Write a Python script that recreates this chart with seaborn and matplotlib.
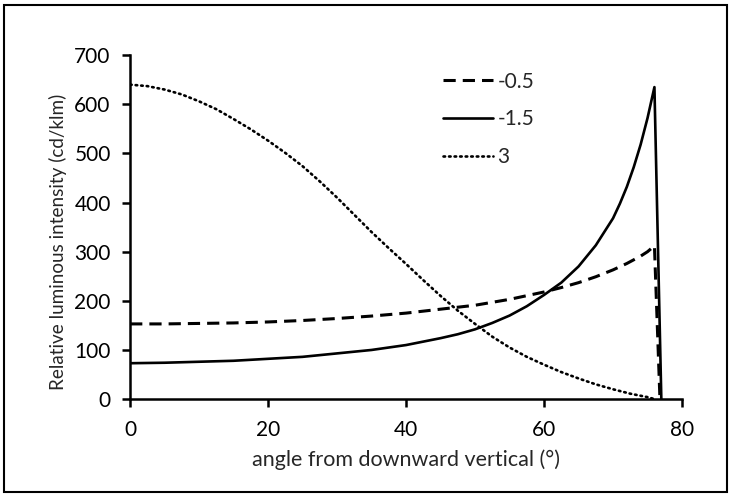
import matplotlib
matplotlib.use("Agg")
import matplotlib.pyplot as plt
import matplotlib.patches as mpatches
import numpy as np
import pandas as pd
import seaborn as sns

# ---- data ----
angle_m05 = [0, 5, 10, 15, 20, 25, 30, 35, 40, 45, 50, 55, 60, 62.5, 65, 67.5, 70, 72, 74, 75, 76, 76.8]
vals_m05 = [153, 153, 154, 155, 157, 160, 164, 169, 175, 183, 191, 203, 218, 227, 237, 249, 263, 276, 291, 300, 312, 0]

angle_m15 = [0, 5, 10, 15, 20, 25, 30, 35, 40, 45, 47.5, 50, 52.5, 55, 57.5, 60, 62.5, 65, 67.5,
             70, 71, 72, 73, 74, 75, 76, 77]
vals_m15 = [73, 74, 76, 78, 82, 86, 93, 100, 110, 124, 132, 142, 155, 170, 189, 212, 237, 270, 313,
            368, 398, 432, 472, 518, 572, 635, 0]

angle_3 = [0, 2.5, 5, 7.5, 10, 12.5, 15, 17.5, 20, 22.5, 25, 27.5, 30, 32.5, 35, 37.5, 40, 42.5,
           45, 47.5, 50, 52.5, 55, 57.5, 60, 62.5, 65, 67.5, 70, 72.5, 75, 76]
vals_3 = [640, 637, 630, 620, 606, 590, 570, 549, 526, 501, 474, 443, 410, 375, 340, 307, 275, 242,
          210, 180, 153, 127, 105, 86, 70, 55, 42, 30, 20, 11, 4, 0]

series_names = ["-0.5", "-1.5", "3"]
x_ticks = [0, 20, 40, 60, 80]
y_ticks = [0, 100, 200, 300, 400, 500, 600, 700]

df = pd.concat([
    pd.DataFrame({"angle": angle_m05, "intensity": vals_m05, "series": "-0.5"}),
    pd.DataFrame({"angle": angle_m15, "intensity": vals_m15, "series": "-1.5"}),
    pd.DataFrame({"angle": angle_3, "intensity": vals_3, "series": "3"}),
], ignore_index=True)

sns.set_style("white")
plt.rcParams["font.family"] = ["Lato", "DejaVu Sans"]
FS = 15

fig = plt.figure(figsize=(7.31, 4.97), dpi=100)
ax = fig.add_axes([0.178, 0.197, 0.755, 0.692])

sns.lineplot(
    data=df, x="angle", y="intensity", hue="series", style="series",
    hue_order=series_names, style_order=series_names,
    palette={"-0.5": "black", "-1.5": "black", "3": "black"},
    dashes={"-0.5": (4, 2.3), "-1.5": "", "3": (0.6, 1.5)},
    sort=False, estimator=None, ax=ax, legend=True,
)
lw = {"-0.5": 2.2, "-1.5": 1.9, "3": 1.9}
for line, name in zip(ax.get_lines()[:3], series_names):
    line.set_linewidth(lw[name])
    line.set_solid_joinstyle("round")
    if name == "3":
        line.set_dash_capstyle("round")

leg = ax.get_legend()
handles = leg.legend_handles
labels = [t.get_text() for t in leg.texts]
for h, name in zip(handles, labels):
    if name in lw:
        h.set_linewidth(lw[name])
        if name == "3":
            h.set_dash_capstyle("round")
ax.legend(handles, labels, frameon=False, fontsize=FS, loc="upper left",
          bbox_to_anchor=(0.592, 0.877), bbox_transform=fig.transFigure,
          handlelength=2.4, handletextpad=0.2, labelspacing=0.85, borderpad=0)

ax.set_xlim(0, 80)
ax.set_ylim(0, 700)
ax.set_xticks(x_ticks)
ax.set_yticks(y_ticks)
ax.tick_params(axis="both", labelsize=FS, colors="black", direction="out",
               length=6, width=1.8, left=True, bottom=True)
ax.tick_params(axis="x", pad=9)
ax.tick_params(axis="y", pad=8)
ax.set_xlabel("angle from downward vertical (°)", fontsize=15.5, labelpad=7)
ax.set_ylabel("Relative luminous intensity (cd/klm)", fontsize=13.6)
ax.yaxis.set_label_coords(-0.115, 0.456)
for s in ["top", "right"]:
    ax.spines[s].set_visible(False)
for s in ["left", "bottom"]:
    ax.spines[s].set_color("black")
    ax.spines[s].set_linewidth(1.8)

fig.patches.append(mpatches.Rectangle((0.006, 0.01), 0.988, 0.98, transform=fig.transFigure,
                                      fill=False, edgecolor="black", linewidth=1.5))

fig.savefig("out.png", dpi=100)
